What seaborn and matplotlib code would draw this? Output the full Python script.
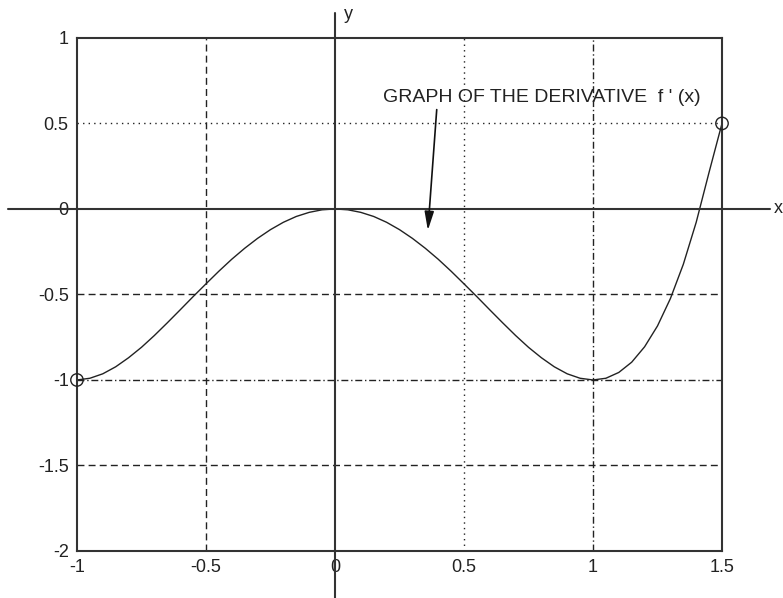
import matplotlib
matplotlib.use("Agg")
import matplotlib.pyplot as plt
import matplotlib.transforms as mtransforms
import pandas as pd
import seaborn as sns

# curve values
x_vals = [-1.00, -0.95, -0.90, -0.85, -0.80, -0.75, -0.70, -0.65, -0.60, -0.55,
          -0.50, -0.45, -0.40, -0.35, -0.30, -0.25, -0.20, -0.15, -0.10, -0.05,
          0.00, 0.05, 0.10, 0.15, 0.20, 0.25, 0.30, 0.35, 0.40, 0.45,
          0.50, 0.55, 0.60, 0.65, 0.70, 0.75, 0.80, 0.85, 0.90, 0.95,
          1.00, 1.05, 1.10, 1.15, 1.20, 1.25, 1.30, 1.35, 1.40, 1.45, 1.50]
y_vals = [-1.000, -0.990, -0.964, -0.923, -0.870, -0.809, -0.740, -0.666, -0.590, -0.513,
          -0.438, -0.364, -0.294, -0.230, -0.172, -0.121, -0.078, -0.044, -0.020, -0.005,
          0.000, -0.005, -0.020, -0.044, -0.078, -0.121, -0.172, -0.230, -0.294, -0.364,
          -0.438, -0.513, -0.590, -0.666, -0.740, -0.809, -0.870, -0.923, -0.964, -0.990,
          -1.000, -0.990, -0.956, -0.896, -0.806, -0.684, -0.524, -0.324, -0.078, 0.215, 0.500]

end_x = [-1.0, 1.5]
end_y = [-1.0, 0.5]

x_ticks = [-1, -0.5, 0, 0.5, 1, 1.5]
x_labels = ["-1", "-0.5", "0", "0.5", "1", "1.5"]
y_ticks = [-2, -1.5, -1, -0.5, 0, 0.5, 1]
y_labels = ["-2", "-1.5", "-1", "-0.5", "0", "0.5", "1"]

# grid styles per tick (reference mixes dashed / dotted / dash-dot)
x_grid_styles = ["-", (0, (5, 3)), "-", (0, (1, 3)), (0, (5, 2, 1, 2)), "-"]
y_grid_styles = ["-", (0, (5, 3)), (0, (5, 2, 1, 2)), (0, (5, 3)), "-", (0, (1, 3)), "-"]

annot_text = "GRAPH OF THE DERIVATIVE  f ' (x)"

df = pd.DataFrame({"x": x_vals, "y": y_vals})
ends = pd.DataFrame({"x": end_x, "y": end_y})

sns.set_style("white")
plt.rcParams["font.family"] = ["Liberation Sans", "DejaVu Sans"]

fig = plt.figure(figsize=(7.83, 5.98), dpi=100)
ax = fig.add_axes([0.0983, 0.0786, 0.8238, 0.858])

sns.lineplot(data=df, x="x", y="y", ax=ax, color="#222222", lw=1.0, sort=False)
sns.scatterplot(data=ends, x="x", y="y", ax=ax, marker="o", s=80,
                facecolor="none", edgecolor="#222222", linewidth=1.0, zorder=5,
                clip_on=False)

ax.set_xlim(-1, 1.5)
ax.set_ylim(-2, 1)
ax.set_xticks(x_ticks, x_labels)
ax.set_yticks(y_ticks, y_labels)
ax.set_xlabel("")
ax.set_ylabel("")
ax.tick_params(axis="both", length=0, labelsize=13, colors="#222222", pad=6)

for tick, ls in zip(x_ticks, x_grid_styles):
    if ls != "-":
        ax.axvline(tick, color="#222222", lw=1.0, ls=ls, zorder=1)
for tick, ls in zip(y_ticks, y_grid_styles):
    if ls != "-":
        ax.axhline(tick, color="#222222", lw=1.0, ls=ls, zorder=1)

for sp in ax.spines.values():
    sp.set_color("#333333")
    sp.set_linewidth(1.5)

# coordinate axes running past the frame
tx = mtransforms.blended_transform_factory(ax.transAxes, ax.transData)
ty = mtransforms.blended_transform_factory(ax.transData, ax.transAxes)
ax.plot([-0.107, 1.074], [0, 0], transform=tx, color="#333333", lw=1.5, clip_on=False)
ax.plot([0, 0], [-0.10, 1.049], transform=ty, color="#333333", lw=1.5, clip_on=False)
ax.text(1.08, 0, "x", transform=tx, fontsize=13, va="center", ha="left", color="#222222")
ax.text(0.035, 1.045, "y", transform=ty, fontsize=13, va="center", ha="left", color="#222222")

ax.annotate(annot_text, xy=(0.36, -0.125), xytext=(0.186, 0.60),
            fontsize=14, color="#222222", va="bottom", ha="left",
            arrowprops=dict(arrowstyle="-|>,head_length=0.8,head_width=0.2",
                            color="#111111", lw=1.2, shrinkA=0, shrinkB=0,
                            relpos=(0.17, 0.0)))

fig.savefig("out.png", dpi=100)
plt.close(fig)
